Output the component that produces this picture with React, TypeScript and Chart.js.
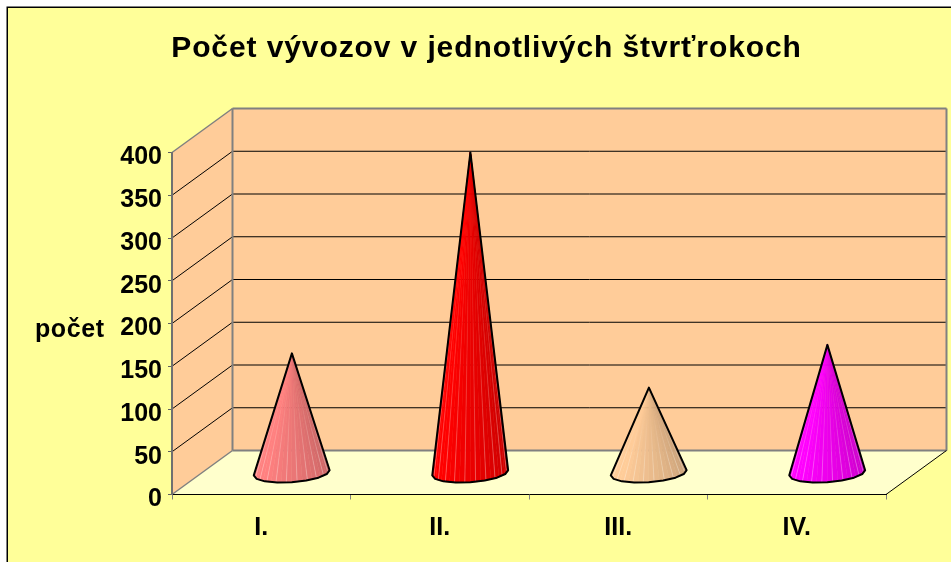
import React, { useEffect, useRef } from "react";
import { Chart, registerables } from "chart.js";

Chart.register(...registerables);

const categories = ["I.", "II.", "III.", "IV."];
const exports_count = [140, 375, 100, 150];
const coneColors = ["#FF8080", "#FF0000", "#FFCC99", "#FF00FF"];
const yTicks = [0, 50, 100, 150, 200, 250, 300, 350, 400];
const chartTitle = "Počet vývozov v jednotlivých štvrťrokoch";
const yTitle = "počet";

const DEPTH_X = 60.5;
const DEPTH_Y = -44;
const FONT = "'Liberation Sans', Arial, sans-serif";

function shade(hex: string, f: number) {
  const n = parseInt(hex.slice(1), 16);
  const c = [(n >> 16) & 255, (n >> 8) & 255, n & 255].map((v) => Math.round(v * f));
  return `rgb(${c[0]},${c[1]},${c[2]})`;
}

const scene3d = {
  id: "scene3d",
  beforeDraw(chart: any) {
    const { ctx, chartArea: a, scales } = chart;
    const y = scales.y;
    ctx.save();
    ctx.fillStyle = "#FFFFFF";
    ctx.fillRect(0, 0, chart.width, chart.height);
    ctx.fillStyle = "#FFFF99";
    ctx.fillRect(7, 7, chart.width - 7, chart.height - 7);
    ctx.strokeStyle = "#000000";
    ctx.lineWidth = 1.5;
    ctx.beginPath();
    ctx.moveTo(7.25, chart.height);
    ctx.lineTo(7.25, 7.25);
    ctx.lineTo(chart.width, 7.25);
    ctx.stroke();

    const poly = (pts: number[][], fill: string) => {
      ctx.fillStyle = fill;
      ctx.beginPath();
      pts.forEach((p, i) => (i ? ctx.lineTo(p[0], p[1]) : ctx.moveTo(p[0], p[1])));
      ctx.closePath();
      ctx.fill();
    };
    const line = (x0: number, y0: number, x1: number, y1: number, color: string, w: number) => {
      ctx.strokeStyle = color;
      ctx.lineWidth = w;
      ctx.beginPath();
      ctx.moveTo(x0, y0);
      ctx.lineTo(x1, y1);
      ctx.stroke();
    };
    const bx = a.left + DEPTH_X;
    const rx = a.right + DEPTH_X;
    const tb = a.top + DEPTH_Y;
    const bb = a.bottom + DEPTH_Y;
    poly([[a.left, a.top], [bx, tb], [bx, bb], [a.left, a.bottom]], "#FFCC99");
    poly([[bx, tb], [rx, tb], [rx, bb], [bx, bb]], "#FFCC99");
    poly([[a.left, a.bottom], [bx, bb], [rx, bb], [a.right, a.bottom]], "#FFFFCC");

    yTicks.forEach((v) => {
      if (v === 0 || v === 400) return;
      const p = y.getPixelForValue(v);
      line(a.left, p, bx, p + DEPTH_Y, "#000000", 1);
      line(bx, p + DEPTH_Y, rx, p + DEPTH_Y, "#000000", 1);
    });
    const g = "#808080";
    line(a.left, a.top, bx, tb, g, 1.5);
    line(bx, tb, rx, tb, g, 2);
    line(bx, tb, bx, bb, g, 2);
    line(rx, tb, rx, bb, g, 2);
    line(bx, bb, rx, bb, g, 2);
    line(a.left, a.bottom, bx, bb, g, 1.5);
    line(a.right, a.bottom, rx, bb, "#000000", 1);
    ctx.restore();
    // Applies to the title, drawn in the layer before the datasets; tick labels are in a later layer.
    ctx.letterSpacing = "0.9px";
  },
  beforeDatasetDraw(chart: any, args: any) {
    const { ctx } = chart;
    const meta = chart.getDatasetMeta(args.index);
    const FACETS = 22;
    meta.data.forEach((el: any, i: number) => {
      const color = coneColors[i];
      const cx = el.x + DEPTH_X / 2 + 0.2;
      const cy = el.base + DEPTH_Y / 2 + 0.8;
      const ax = cx + 0.2;
      const ay = el.y + DEPTH_Y / 2 + 0.6;
      const rx = el.width / 2;
      const ry = 9.5;
      const skew = -2.6;
      const base = (t: number) => [
        cx + rx * Math.cos(t),
        cy + ry * Math.sin(t) + skew * Math.cos(t),
      ];
      ctx.save();
      ctx.lineJoin = "round";
      for (let k = 0; k < FACETS; k++) {
        const t0 = Math.PI - (k / FACETS) * Math.PI;
        const t1 = Math.PI - ((k + 1) / FACETS) * Math.PI;
        const p0 = base(t0);
        const p1 = base(t1);
        const u = (k + 0.5) / FACETS;
        const f = u < 0.25 ? 1 : 1 - (u - 0.25) * 0.3;
        ctx.fillStyle = shade(color, f);
        ctx.strokeStyle = shade(color, f);
        ctx.lineWidth = 0.5;
        ctx.beginPath();
        ctx.moveTo(ax, ay);
        ctx.lineTo(p0[0], p0[1]);
        ctx.lineTo(p1[0], p1[1]);
        ctx.closePath();
        ctx.fill();
        ctx.stroke();
        if (k > 0 && k % 2 === 0) {
          const grad = ctx.createLinearGradient(0, ay, 0, p0[1]);
          grad.addColorStop(0, "rgba(255,255,255,0)");
          grad.addColorStop(0.3, "rgba(255,255,255,0)");
          grad.addColorStop(1, "rgba(255,255,255,0.38)");
          ctx.strokeStyle = grad;
          ctx.lineWidth = 0.8;
          ctx.beginPath();
          ctx.moveTo(ax, ay);
          ctx.lineTo(p0[0], p0[1]);
          ctx.stroke();
        }
      }
      ctx.strokeStyle = "#000000";
      ctx.lineWidth = 2;
      ctx.beginPath();
      ctx.moveTo(ax, ay);
      for (let k = 0; k <= 8; k++) {
        const p = base((k / 8) * Math.PI);
        ctx.lineTo(p[0], p[1]);
      }
      ctx.closePath();
      ctx.stroke();
      ctx.restore();
    });
    return false;
  },
  afterDatasetsDraw(chart: any) {
    chart.ctx.letterSpacing = "0px";
  },
  afterDraw(chart: any) {
    const { ctx, scales } = chart;
    ctx.save();
    ctx.letterSpacing = "0.6px";
    ctx.fillStyle = "#000000";
    ctx.font = `bold 25px ${FONT}`;
    ctx.textAlign = "left";
    ctx.textBaseline = "middle";
    ctx.fillText(yTitle, 35, scales.y.getPixelForValue(192));
    ctx.restore();
    ctx.letterSpacing = "0px";
  },
};

export default function App() {
  const ref = useRef<HTMLCanvasElement>(null);
  useEffect(() => {
    document.body.style.margin = "0";
    const chart = new Chart(ref.current as HTMLCanvasElement, {
      type: "bar",
      plugins: [scene3d],
      data: {
        labels: categories,
        datasets: [
          {
            label: yTitle,
            data: exports_count,
            backgroundColor: coneColors,
            barPercentage: 0.425,
            categoryPercentage: 1,
          },
        ],
      },
      options: {
        responsive: false,
        animation: false,
        layout: { padding: { left: 87, right: 65, top: 0, bottom: 0 } },
        plugins: {
          legend: { display: false },
          tooltip: { enabled: false },
          title: {
            display: true,
            text: chartTitle,
            color: "#000000",
            font: { family: FONT, size: 30, weight: "bold" },
            padding: { top: 31, bottom: 85.5 },
          },
        },
        scales: {
          x: {
            afterFit: (s: any) => {
              s.height = 67.5;
            },
            border: { color: "#000000", width: 1 },
            grid: { offset: true, drawOnChartArea: false, tickLength: 5, color: "#808080" },
            ticks: {
              z: 1,
              color: "#000000",
              padding: 14,
              maxRotation: 0,
              font: { family: FONT, size: 25, weight: "bold" },
            },
          },
          y: {
            min: 0,
            max: 400,
            afterFit: (s: any) => {
              s.width = 85;
            },
            border: { color: "#707070", width: 2 },
            grid: { drawOnChartArea: false, tickLength: 4, color: "#606060" },
            ticks: {
              z: 1,
              stepSize: 50,
              color: "#000000",
              padding: 6,
              labelOffset: 5,
              font: { family: FONT, size: 25, weight: "bold" },
            },
          },
        },
      },
    } as any);
    return () => chart.destroy();
  }, []);
  return <canvas ref={ref} width={951} height={562} style={{ display: "block" }} />;
}
